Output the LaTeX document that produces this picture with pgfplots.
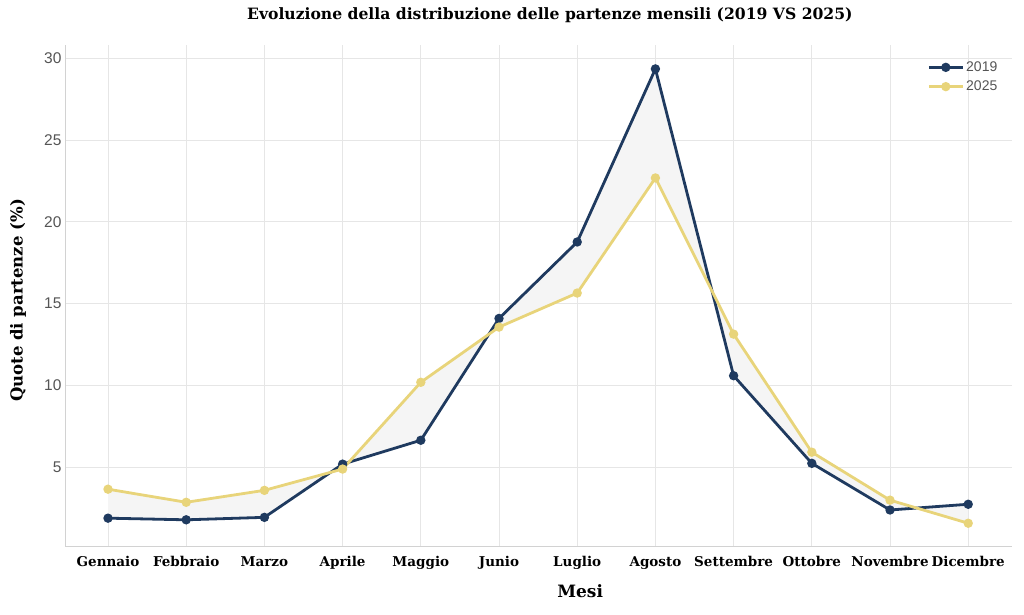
\documentclass[border=0pt]{standalone}
\usepackage{pgfplots}
\pgfplotsset{compat=1.18}
\usepgfplotslibrary{fillbetween}
\usepackage{fontspec}
\setmainfont{DejaVu Serif}
\newfontfamily\tickfont{Liberation Sans}
\definecolor{navy}{HTML}{1F3A5F}
\definecolor{gold}{HTML}{E8D47A}
\definecolor{tickgray}{HTML}{555555}
\definecolor{gridgray}{HTML}{E6E6E6}
\begin{document}
\begin{tikzpicture}
\begin{axis}[
  set layers,
  scale only axis,
  width=947pt, height=501pt,
  xmin=-0.55, xmax=11.56,
  ymin=0.2, ymax=30.8,
  xtick={0,...,11},
  xticklabels={Gennaio,Febbraio,Marzo,Aprile,Maggio,Junio,Luglio,Agosto,Settembre,Ottobre,Novembre,Dicembre},
  ytick={5,10,15,20,25,30},
  /pgf/number format/assume math mode=true,
  major tick length=0pt,
  grid=major,
  major grid style={draw=gridgray, line width=0.8pt},
  axis x line*=bottom, axis y line*=left,
  axis line style={draw=gray!35, line width=0.8pt, -},
  xticklabel style={font=\fontsize{13.5}{14}\selectfont\bfseries, anchor=base, yshift=-20pt},
  yticklabel style={font=\fontsize{15.5}{16}\tickfont, text=tickgray},
  title={Evoluzione della distribuzione delle partenze mensili (2019 VS 2025)},
  title style={font=\fontsize{15.6}{16}\selectfont\bfseries, at={(axis description cs:0.512,1)}, anchor=base, yshift=19pt},
  xlabel={Mesi},
  every axis x label/.style={at={(axis description cs:0.544,0)}, anchor=base, yshift=-51pt, font=\fontsize{17}{18}\selectfont\bfseries},
  ylabel={Quote di partenze (\%)},
  every axis y label/.style={at={(axis description cs:-0.0496,0.49)}, rotate=90, anchor=center, font=\fontsize{16.5}{18}\selectfont\bfseries},
  legend style={at={(axis description cs:0.99,0.975)}, anchor=north east, draw=none, fill=none, font=\fontsize{14}{15}\tickfont, text=tickgray, row sep=4pt},
  legend image code/.code={\draw[mark repeat=2,mark phase=2,#1] plot coordinates {(0pt,0pt) (17pt,0pt) (34pt,0pt)};},
  legend cell align=left,
]
\addplot[name path=a, navy, line width=2.8pt, mark=*, mark size=3.2pt] coordinates {
(0,1.9) (1,1.8) (2,1.95) (3,5.2) (4,6.66) (5,14.1) (6,18.77) (7,29.34) (8,10.6) (9,5.25) (10,2.4) (11,2.75)};
\addlegendentry{2019}
\addplot[name path=b, gold, line width=2.8pt, mark=*, mark size=3.2pt] coordinates {
(0,3.67) (1,2.87) (2,3.6) (3,4.9) (4,10.2) (5,13.57) (6,15.65) (7,22.68) (8,13.14) (9,5.93) (10,3.0) (11,1.59)};
\addlegendentry{2025}
\addplot[fill=gray!8, draw=none, forget plot] fill between[of=a and b];
\end{axis}
\pgfresetboundingbox
\path (-65pt,-68pt) rectangle (959pt,546pt);
\end{tikzpicture}
\end{document}
